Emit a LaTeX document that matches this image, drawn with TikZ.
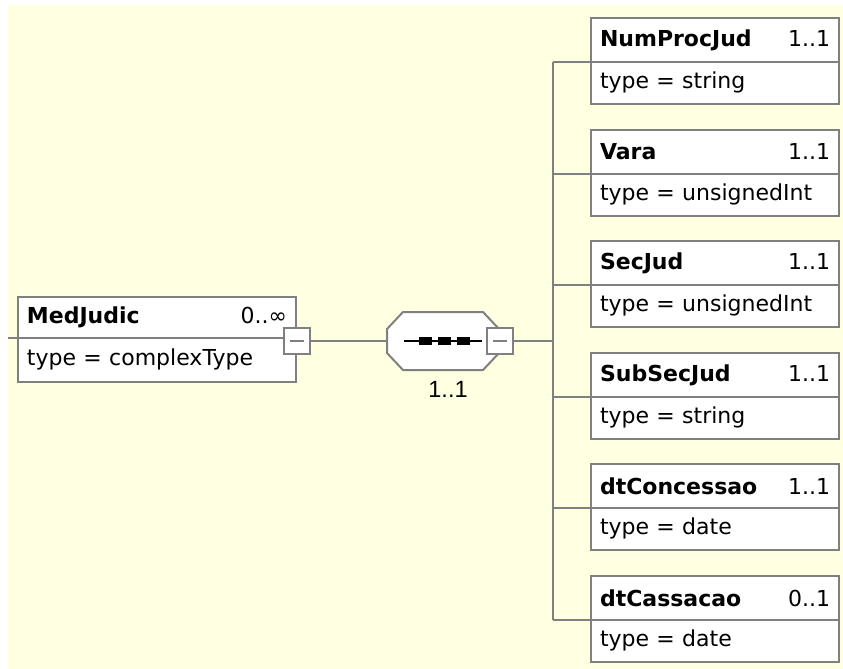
\documentclass[tikz,border=0pt]{standalone}
\usepackage{fontspec}
\setmainfont{DejaVu Sans}
\newfontfamily\cardfont{Liberation Sans}
\usepackage{xcolor}
\usetikzlibrary{positioning}
\definecolor{bgyellow}{HTML}{FFFFE1}
\definecolor{linegray}{HTML}{808080}

\begin{document}
\begin{tikzpicture}[
  x=1pt, y=-1pt,
  elhead/.style={draw=linegray, fill=white, line width=2pt, anchor=north west,
    minimum height=44pt, inner xsep=9pt, inner ysep=0pt, outer sep=0pt,
    text width=230pt, font=\fontsize{22}{26}\selectfont},
  elbody/.style={elhead, minimum height=42pt, below=0pt of #1},
  minusbox/.style={draw=linegray, fill=white, line width=2pt, minimum size=26pt,
    inner sep=0pt, outer sep=0pt,
    path picture={\draw[linegray, line width=2pt]
      ([xshift=-7pt]path picture bounding box.center) --
      ([xshift=7pt]path picture bounding box.center);}},
  seqdot/.style={fill=black, minimum width=13pt, minimum height=8pt, inner sep=0pt},
  conn/.style={draw=linegray, line width=2pt}
]
  \useasboundingbox (0,0) rectangle (843,669);
  \fill[bgyellow] (8,5) rectangle (843,669);

  \coordinate (inlet) at (8,338);
  \node[elhead, text width=260pt, minimum height=41pt] (medhead) at (18,297) {\textbf{MedJudic}\hfill 0..∞};
  \node[elbody=medhead, text width=260pt, minimum height=44pt] (medbody) {type = complexType\strut};
  \draw[conn] (inlet) -- (medhead.south west);
  \node[minusbox] (medmin) at (297,341) {};

  \node[minimum width=112pt, minimum height=58pt, inner sep=0pt, outer sep=0pt] (seq) at (443,341) {};
  \draw[conn] (medmin.east) -- (seq.west);
  \draw[conn, fill=white] ([xshift=16pt]seq.north west) -- ([xshift=-16pt]seq.north east)
    -- ([yshift=-17pt]seq.north east) -- ([yshift=17pt]seq.south east)
    -- ([xshift=-16pt]seq.south east) -- ([xshift=16pt]seq.south west)
    -- ([yshift=17pt]seq.south west) -- ([yshift=-17pt]seq.north west) -- cycle;
  \draw[line width=2pt] ([xshift=-39pt]seq.center) -- ([xshift=39pt]seq.center);
  \foreach \dx [count=\k] in {-17.5,1.5,20.5}
    \node[seqdot] (dot\k) at ([xshift=\dx pt]seq.center) {};
  \node[minusbox] (seqmin) at (500,341) {};
  \node[font=\cardfont\fontsize{23.5}{26}\selectfont] (seqcard) at (448,389) {1..1};

  \coordinate (bus) at (553,341);
  \draw[conn] (seqmin.east) -- (bus);
  \foreach \nm/\card/\typ [count=\i from 0] in {NumProcJud/1..1/string, Vara/1..1/unsignedInt,
      SecJud/1..1/unsignedInt, SubSecJud/1..1/string, dtConcessao/1..1/date, dtCassacao/0..1/date}{
    \pgfmathtruncatemacro{\ytop}{18+round(111.6*\i)}
    \node[elhead] (head\i) at (591,\ytop) {\textbf{\nm}\hfill\card};
    \node[elbody=head\i] (body\i) {type = \typ\strut};
    \draw[conn] (bus |- head\i.south west) -- (head\i.south west);
  }
  \draw[conn] (bus |- head0.south) -- (bus |- head5.south);
\end{tikzpicture}
\end{document}
